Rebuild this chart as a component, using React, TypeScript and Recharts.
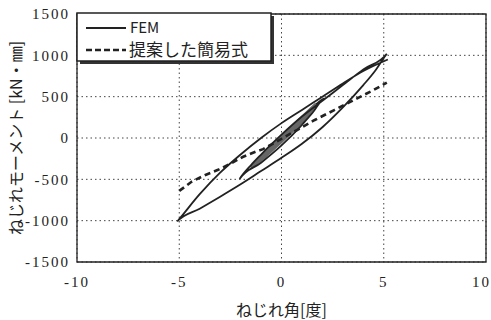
import React from "react";
import {
  ComposedChart,
  Line,
  XAxis,
  YAxis,
  CartesianGrid,
  ReferenceArea,
  Label,
} from "recharts";

// Torsion angle [deg] / torsional moment [kN·mm]

// FEM: small early cycles near the origin
const femCoreAngle = [0, 0.8, 1.7, 1.0, 0.0, -0.8, -1.5, -0.7, 0.3, 1.2, 1.7];
const femCoreMoment = [0, 200, 410, 200, -40, -220, -360, -150, 80, 290, 410];

// FEM: ±2° cycle followed by the ±5° cycles
const femAngle = [
  1.7, 2.1, 1.5, 1.0, 0.0, -1.0, -2.05,
  -1.5, -1.0, 0.0, 1.0, 2.0, 3.0, 4.0, 5.15,
  4.6, 4.0, 3.0, 2.0, 1.0, 0.0, -1.0, -2.0, -3.0, -4.0, -5.1,
  -4.0, -3.0, -2.0, -1.0, 0.0, 1.0, 2.0, 3.0, 4.0, 5.2,
];
const femMoment = [
  410, 480, 300, 160, -90, -300, -495,
  -330, -200, 40, 260, 450, 640, 830, 1020,
  820, 640, 370, 130, -70, -240, -400, -560, -710, -855, -1010,
  -680, -420, -200, 0, 180, 340, 500, 660, 810, 950,
];

// Proposed simplified formula
const formulaAngle = [-5.0, -4.4, -3.75, -3.1, -2.45, -1.9, -1.25, -0.9, 0.0, 1.6, 2.6, 3.7, 4.5, 5.15];
const formulaMoment = [-640, -530, -450, -385, -305, -230, -165, -135, -10, 215, 340, 480, 580, 670];

const xTicks = [-10, -5, 0, 5, 10];
const yTicks = [-1500, -1000, -500, 0, 500, 1000, 1500];

const legendLabels = ["FEM", "提案した簡易式"];

const toPoints = (xs: number[], ys: number[]) => xs.map((x, i) => ({ x, y: ys[i] }));

const femCore = toPoints(femCoreAngle, femCoreMoment);
const femMain = toPoints(femAngle, femMoment);
const formula = toPoints(formulaAngle, formulaMoment);

const tickStyle = {
  fontFamily: "'Liberation Serif', serif",
  fontSize: 15,
  fill: "#222",
  letterSpacing: 2,
};
const jpFont = "'Noto Sans CJK JP', 'Noto Sans', sans-serif";

const LegendBox = () => (
  <svg
    width={200}
    height={54}
    style={{ position: "absolute", left: 76, top: 12, overflow: "visible" }}
  >
    <rect x={4} y={4} width={194} height={48} fill="#333" />
    <rect x={1} y={1} width={194} height={48} fill="#fff" stroke="#222" strokeWidth={1.5} />
    <line x1={10} y1={16} x2={50} y2={16} stroke="#222" strokeWidth={1.8} />
    <line x1={10} y1={38} x2={50} y2={38} stroke="#222" strokeWidth={2.5} strokeDasharray="6 3" />
    <text x={54} y={21} fontSize={15} fontFamily={jpFont} fill="#222">
      {legendLabels[0]}
    </text>
    <text x={53} y={44} fontSize={17} fontFamily={jpFont} fill="#222">
      {legendLabels[1]}
    </text>
  </svg>
);

export default function App() {
  return (
    <div style={{ position: "absolute", left: 0, top: 0, width: 491, height: 320, background: "#fff" }}>
      <ComposedChart
        width={491}
        height={320}
        margin={{ top: 14, right: 5, bottom: 0, left: 0 }}
      >
        <CartesianGrid stroke="#444" strokeDasharray="1.5 3" />
        <XAxis
          type="number"
          dataKey="x"
          domain={[-10, 10]}
          ticks={xTicks}
          allowDataOverflow
          axisLine={false}
          tickLine={false}
          tick={tickStyle}
          tickMargin={8}
          height={58}
        >
          <Label
            value="ねじれ角[度]"
            position="insideBottom"
            offset={4}
            style={{ fontFamily: jpFont, fontSize: 16, fill: "#222" }}
          />
        </XAxis>
        <YAxis
          type="number"
          dataKey="y"
          domain={[-1500, 1500]}
          ticks={yTicks}
          allowDataOverflow
          axisLine={false}
          tickLine={false}
          tick={tickStyle}
          tickMargin={1}
          width={77}
        >
          <Label
            value="ねじれモーメント [kN・㎜]"
            angle={-90}
            position="insideLeft"
            offset={16}
            style={{ textAnchor: "middle", fontFamily: jpFont, fontSize: 16, fill: "#222" }}
          />
        </YAxis>
        <ReferenceArea x1={-10} x2={10} y1={-1500} y2={1500} fill="none" stroke="#222" strokeWidth={1.3} />
        <Line
          data={femCore}
          dataKey="y"
          type="linear"
          stroke="#666"
          strokeWidth={3.5}
          dot={false}
          isAnimationActive={false}
        />
        <Line
          data={femMain}
          dataKey="y"
          type="monotone"
          stroke="#222"
          strokeWidth={1.8}
          dot={false}
          isAnimationActive={false}
        />
        <Line
          data={formula}
          dataKey="y"
          type="linear"
          stroke="#222"
          strokeWidth={2.6}
          strokeDasharray="6 4"
          dot={false}
          isAnimationActive={false}
        />
      </ComposedChart>
      <LegendBox />
    </div>
  );
}
